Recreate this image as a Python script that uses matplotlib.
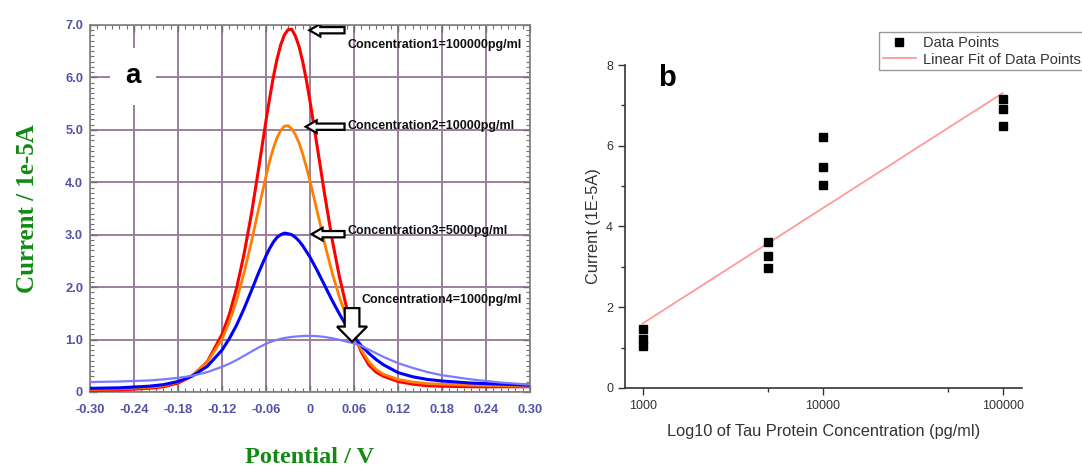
"""Two-panel figure: DPV curves for four tau concentrations (a) and the
calibration plot of peak current against concentration (b)."""
import matplotlib
matplotlib.use("Agg")
import matplotlib.pyplot as plt
from matplotlib import font_manager
from matplotlib.patches import FancyArrow
from matplotlib.ticker import MultipleLocator, FixedLocator, FuncFormatter, NullFormatter
import numpy as np

# ---- panel a: voltammograms (current in 1e-5 A) ----
potential = [-0.30, -0.26, -0.22, -0.20, -0.18, -0.16, -0.14, -0.12, -0.11, -0.10,
             -0.09, -0.08, -0.07, -0.06, -0.055, -0.05, -0.045, -0.04, -0.035, -0.03,
             -0.025, -0.02, -0.015, -0.01, -0.005, 0.00, 0.01, 0.02, 0.03, 0.04,
             0.05, 0.06, 0.07, 0.08, 0.09, 0.10, 0.12, 0.14, 0.16, 0.18,
             0.22, 0.26, 0.30]
i_100000 = [0.03, 0.04, 0.07, 0.10, 0.17, 0.31, 0.58, 1.10, 1.48, 1.99,
            2.63, 3.39, 4.27, 5.18, 5.61, 6.01, 6.35, 6.62, 6.81, 6.91,
            6.92, 6.79, 6.59, 6.30, 5.95, 5.54, 4.66, 3.76, 2.92, 2.20,
            1.60, 1.10, 0.76, 0.52, 0.38, 0.30, 0.20, 0.15, 0.12, 0.11,
            0.10, 0.10, 0.10]
i_10000 = [0.05, 0.06, 0.09, 0.12, 0.19, 0.32, 0.57, 1.01, 1.34, 1.76,
           2.27, 2.86, 3.50, 4.12, 4.41, 4.65, 4.85, 4.99, 5.07, 5.08,
           5.02, 4.91, 4.75, 4.54, 4.29, 4.02, 3.43, 2.83, 2.28, 1.81,
           1.41, 1.07, 0.80, 0.58, 0.43, 0.34, 0.24, 0.19, 0.16, 0.15,
           0.13, 0.12, 0.11]
i_5000 = [0.07, 0.08, 0.11, 0.14, 0.20, 0.31, 0.49, 0.80, 1.02, 1.28,
          1.59, 1.93, 2.28, 2.60, 2.74, 2.86, 2.95, 3.00, 3.03, 3.02,
          3.00, 2.95, 2.88, 2.79, 2.68, 2.57, 2.31, 2.03, 1.75, 1.49,
          1.25, 1.05, 0.88, 0.74, 0.62, 0.52, 0.37, 0.29, 0.24, 0.21,
          0.17, 0.15, 0.13]
i_1000 = [0.19, 0.20, 0.22, 0.24, 0.27, 0.31, 0.38, 0.48, 0.54, 0.61,
          0.69, 0.77, 0.85, 0.92, 0.95, 0.975, 0.995, 1.015, 1.03, 1.04,
          1.05, 1.057, 1.063, 1.068, 1.07, 1.07, 1.065, 1.05, 1.025, 0.995,
          0.96, 0.93, 0.88, 0.81, 0.74, 0.67, 0.55, 0.46, 0.38, 0.32,
          0.24, 0.18, 0.14]
curve_labels = ["Concentration1=100000pg/ml", "Concentration2=10000pg/ml",
                "Concentration3=5000pg/ml", "Concentration4=1000pg/ml"]

# ---- panel b: calibration points ----
conc_levels = [1000, 5000, 10000, 100000]
reps_1000 = [1.46, 1.21, 1.03]
reps_5000 = [3.62, 3.27, 2.98]
reps_10000 = [6.22, 5.48, 5.02]
reps_100000 = [7.15, 6.92, 6.48]

GREEN = "#128a12"
TICK_BLUE = "#5252a8"

names = {f.name for f in font_manager.fontManager.ttflist}
note_font = "Liberation Sans Narrow" if "Liberation Sans Narrow" in names else "Liberation Sans"
note_size = 10.5 if note_font.endswith("Narrow") else 9

fig = plt.figure(figsize=(10.82, 4.66), dpi=100)
ax = fig.add_axes([0.0832, 0.1588, 0.4067, 0.7876])
bx = fig.add_axes([0.5776, 0.1674, 0.3669, 0.6931])

# ---------------- panel a ----------------
styles = [("#ff0000", 2.2), ("#ff8000", 2.0), ("#0000ff", 2.2), ("#7a7aff", 1.6)]
for ys, (col, lw) in zip([i_100000, i_10000, i_5000, i_1000], styles):
    ax.plot(potential, ys, color=col, lw=lw, zorder=3, solid_joinstyle="round")

ax.set_xlim(-0.30, 0.30)
ax.set_ylim(0, 7.0)
ax.xaxis.set_major_locator(MultipleLocator(0.06))
ax.xaxis.set_minor_locator(MultipleLocator(0.01))
ax.yaxis.set_major_locator(MultipleLocator(1.0))
ax.yaxis.set_minor_locator(MultipleLocator(0.1))
ax.xaxis.set_major_formatter(FuncFormatter(lambda v, p: "0" if abs(v) < 1e-9 else f"{v:.2f}"))
ax.yaxis.set_major_formatter(FuncFormatter(lambda v, p: "0" if abs(v) < 1e-9 else f"{v:.1f}"))
ax.grid(True, which="major", color="#9b7f9b", lw=1.4, zorder=0)
ax.tick_params(which="both", direction="in", top=True, right=True, color="#707070")
ax.tick_params(which="major", length=5, width=1)
ax.tick_params(which="minor", length=3, width=0.8)
ax.tick_params(axis="x", pad=9)
ax.tick_params(axis="y", pad=5)
for lab in ax.get_xticklabels() + ax.get_yticklabels():
    lab.set_fontfamily("Liberation Sans")
    lab.set_fontweight("bold")
    lab.set_fontsize(9.3)
    lab.set_color(TICK_BLUE)
for sp in ax.spines.values():
    sp.set_color("#808080")
    sp.set_linewidth(1.2)

ax.set_ylabel("Current / 1e-5A", family="Liberation Serif", weight="bold",
              fontsize=18, color=GREEN, labelpad=19)
ax.set_xlabel("Potential / V", family="Liberation Serif", weight="bold",
              fontsize=17.5, color=GREEN, labelpad=22)

ax.text(-0.241, 6.02, "a", fontsize=20, weight="bold", family="Liberation Sans",
        ha="center", va="center", zorder=4,
        bbox=dict(boxstyle="square,pad=0.55", fc="white", ec="none"))

# open arrows pointing at the three large peaks
tail_x = 0.047
tip_x = [-0.001, -0.006, 0.002]
for ys, tx in zip([i_100000, i_10000, i_5000], tip_x):
    ty = max(ys) - 0.02
    ax.add_patch(FancyArrow(tail_x, ty, tx - tail_x, 0, width=0.12, head_width=0.24,
                            head_length=0.015, length_includes_head=True,
                            fc="white", ec="black", lw=1.6, zorder=5))
# downward arrow to the common crossing point
cross_x = 0.0573
cross_y = float(np.interp(cross_x, potential, i_1000)) + 0.02
ax.add_patch(FancyArrow(cross_x, 1.60, 0, cross_y - 1.60, width=0.020, head_width=0.041,
                        head_length=0.29, length_includes_head=True,
                        fc="white", ec="black", lw=1.6, zorder=5))

note_pos = [(0.0505, 6.62), (0.0515, 5.08), (0.0515, 3.07), (0.0695, 1.76)]
for (nx, ny), txt in zip(note_pos, curve_labels):
    ax.text(nx, ny, txt, family=note_font, weight="bold", fontsize=note_size,
            color="#111111", ha="left", va="center", zorder=6)

# ---------------- panel b ----------------
conc = np.repeat(conc_levels, 3)
current = np.array(reps_1000 + reps_5000 + reps_10000 + reps_100000)
slope, intercept = np.polyfit(np.log10(conc), current, 1)
fit_x = np.array([conc_levels[0], conc_levels[-1]])
fit_y = intercept + slope * np.log10(fit_x)

bx.plot(conc, current, ls="none", marker="s", ms=5.5, color="black",
        label="Data Points", zorder=3)
bx.plot(fit_x, fit_y, color="#ff9a9a", lw=1.3, label="Linear Fit of Data Points", zorder=2)

bx.set_xscale("log")
bx.set_xlim(798, 128000)
bx.set_ylim(0, 8)
bx.xaxis.set_major_locator(FixedLocator([1000, 10000, 100000]))
bx.xaxis.set_minor_locator(FixedLocator([5000, 50000]))
bx.xaxis.set_major_formatter(FuncFormatter(lambda v, p: f"{int(round(v))}"))
bx.xaxis.set_minor_formatter(NullFormatter())
bx.yaxis.set_major_locator(MultipleLocator(2))
bx.yaxis.set_minor_locator(MultipleLocator(1))
bx.tick_params(which="both", direction="out", color="#333333", labelcolor="#333333",
               labelsize=9)
bx.tick_params(which="major", length=5, width=1)
bx.tick_params(which="minor", length=3, width=1)
for lab in bx.get_xticklabels() + bx.get_yticklabels():
    lab.set_fontfamily("Liberation Sans")
for side in ("top", "right"):
    bx.spines[side].set_visible(False)
for side in ("left", "bottom"):
    bx.spines[side].set_color("#333333")
    bx.spines[side].set_linewidth(1.2)

bx.set_xlabel("Log10 of Tau Protein Concentration (pg/ml)", family="Liberation Sans",
              fontsize=11.8, color="#333333", labelpad=9)
bx.set_ylabel("Current (1E-5A)", family="Liberation Sans", fontsize=11.8,
              color="#333333", labelpad=4)
bx.text(0.105, 0.96, "b", transform=bx.transAxes, fontsize=21, weight="bold",
        family="Liberation Sans", ha="center", va="center")

leg = bx.legend(loc="upper left", bbox_to_anchor=(879 / 1082, 1 - 32 / 466),
                bbox_transform=fig.transFigure, borderaxespad=0, fancybox=False,
                edgecolor="#999999", framealpha=1, borderpad=0.25, labelspacing=0.2,
                handlelength=2.3, handletextpad=0.45,
                prop={"family": "Liberation Sans", "size": 10.5})
leg.get_frame().set_linewidth(1.0)
for t in leg.get_texts():
    t.set_color("#333333")

fig.savefig("out.png", dpi=100)
